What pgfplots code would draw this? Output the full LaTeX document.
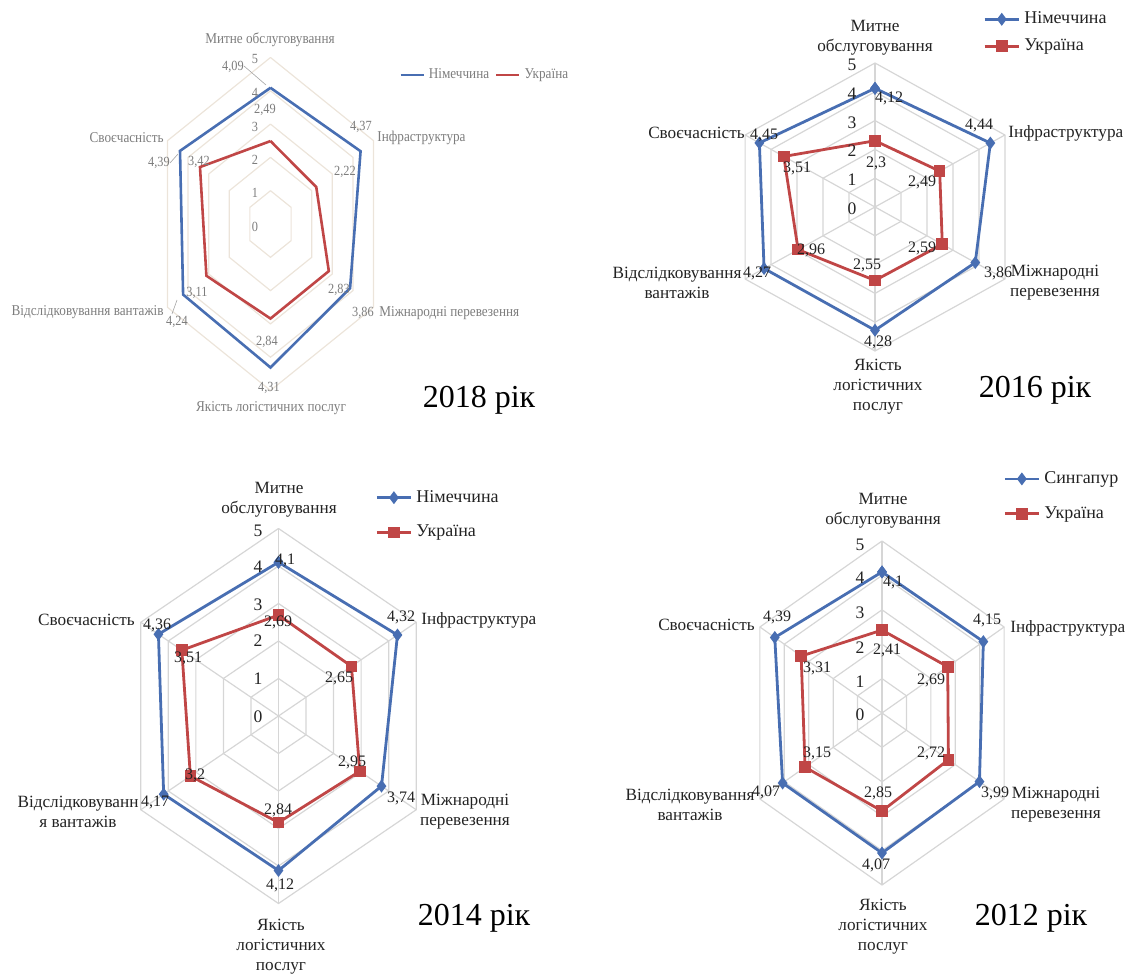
\documentclass[border=0pt]{standalone}
\usepackage{fontspec}
\setmainfont{Liberation Serif}
\usepackage{graphicx}
\usepackage{pgfplots}
\usepackage{pgfplotstable}
\pgfplotsset{compat=1.18}

\definecolor{deblue}{RGB}{72,110,178}
\definecolor{uared}{RGB}{192,70,70}
\definecolor{gridgray}{RGB}{214,214,214}
\definecolor{gridtan}{RGB}{236,228,218}
\definecolor{labgray}{RGB}{125,125,125}
\definecolor{txt}{RGB}{35,35,35}

% six LPI components, clockwise from the top; the 360 row closes the polygon
% a = angle, g = leader country, u = Ukraine
\pgfplotstableread{
a   g    u
0   4.09 2.49
60  4.37 2.22
120 3.86 2.83
180 4.31 2.84
240 4.24 3.11
300 4.39 3.42
360 4.09 2.49
}\lpiEighteen
\pgfplotstableread{
a   g    u
0   4.12 2.30
60  4.44 2.49
120 3.86 2.59
180 4.28 2.55
240 4.27 2.96
300 4.45 3.51
360 4.12 2.30
}\lpiSixteen
\pgfplotstableread{
a   g    u
0   4.10 2.69
60  4.32 2.65
120 3.74 2.95
180 4.12 2.84
240 4.17 3.20
300 4.36 3.51
360 4.10 2.69
}\lpiFourteen
\pgfplotstableread{
a   g    u
0   4.10 2.41
60  4.15 2.69
120 3.99 2.72
180 4.07 2.85
240 4.07 3.15
300 4.39 3.31
360 4.10 2.41
}\lpiTwelve
% corners of a unit hexagon
\pgfplotstableread{
a   r
0   1
60  1
120 1
180 1
240 1
300 1
360 1
}\hexa

\pgfplotsset{
  radar/.style={hide axis, scale only axis, anchor=center,
    xmin=-5.5, xmax=5.5, ymin=-5.5, ymax=5.5, clip=false},
  table/rx/.style={x expr={\thisrow{#1}*sin(\thisrow{a})},
                   y expr={\thisrow{#1}*cos(\thisrow{a})}},
  lead/.style={deblue, line width=1.4pt, mark=diamond*, mark size=2.1pt},
  ukr/.style={uared, line width=1.4pt, mark=square*, mark size=2.2pt},
}

% hexagonal grid, levels 1..5, and spokes
\newcommand{\hexgrid}[1]{%
  \pgfplotsinvokeforeach{1,...,5}{%
    \addplot[#1, line width=0.6pt, forget plot]
      table[x expr={##1*\thisrow{r}*sin(\thisrow{a})}, y expr={##1*\thisrow{r}*cos(\thisrow{a})}] \hexa;}}
\newcommand{\spokes}{%
  \pgfplotsinvokeforeach{0,60,...,300}{%
    \draw[gridgray, line width=0.6pt] (axis cs:0,0) -- (axis cs:{5*sin(##1)},{5*cos(##1)});}}

\newcommand{\sq}[1]{\scalebox{0.88}[1]{#1}}

\begin{document}
\begin{tikzpicture}
\path[use as bounding box] (0,0) rectangle (565.5pt,-489pt);

% ---------------- 2018 ----------------
\begin{axis}[radar, at={(135.25pt,-112pt)}, width=130.9pt, height=183.15pt,
  legend columns=2,
  legend style={at={(0.991,0.907)}, anchor=west, draw=none, fill=none,
    font=\fontsize{7.5}{9}\selectfont, text=labgray, inner sep=0pt,
    /tikz/every even column/.append style={column sep=1pt}},
  legend image code/.code={\draw[#1] (0cm,0cm) -- (0.4cm,0cm);}]
  \hexgrid{gridtan}
  \addplot[deblue, line width=1.3pt, no marks] table[rx=g] \lpiEighteen;
  \addplot[uared, line width=1.3pt, no marks] table[rx=u] \lpiEighteen;
  \legend{\sq{Німеччина}, \sq{Україна}}
\end{axis}

% ---------------- 2016 ----------------
\begin{axis}[radar, at={(437.5pt,-103.5pt)}, width=165pt, height=158.4pt,
  legend cell align=left,
  legend style={at={(0.827,1.13)}, anchor=north west, draw=none, fill=none,
    font=\fontsize{9}{10}\selectfont, text=txt, inner sep=0pt, row sep=2pt}]
  \hexgrid{gridgray}
  \spokes
  \addplot[lead] table[rx=g] \lpiSixteen;
  \addplot[ukr] table[rx=u] \lpiSixteen;
  \legend{Німеччина, Україна}
\end{axis}

% ---------------- 2014 ----------------
\begin{axis}[radar, at={(139.25pt,-358pt)}, width=174.9pt, height=206.25pt,
  legend cell align=left,
  legend style={at={(0.776,1.058)}, anchor=north west, draw=none, fill=none,
    font=\fontsize{9}{10}\selectfont, text=txt, inner sep=0pt, row sep=6pt}]
  \hexgrid{gridgray}
  \spokes
  \addplot[lead] table[rx=g] \lpiFourteen;
  \addplot[ukr] table[rx=u] \lpiFourteen;
  \legend{Німеччина, Україна}
\end{axis}

% ---------------- 2012 ----------------
\begin{axis}[radar, at={(441pt,-356.5pt)}, width=155.1pt, height=189.2pt,
  legend cell align=left,
  legend style={at={(0.89,1.15)}, anchor=north west, draw=none, fill=none,
    font=\fontsize{9}{10}\selectfont, text=txt, inner sep=0pt, row sep=6pt}]
  \hexgrid{gridgray}
  \spokes
  \addplot[lead] table[rx=g] \lpiTwelve;
  \addplot[ukr] table[rx=u] \lpiTwelve;
  \legend{Сингапур, Україна}
\end{axis}

% ---------------- labels ----------------
\begin{scope}[x=0.5pt, y=-0.5pt,
  c18/.style={font=\fontsize{7.5}{9}\selectfont, text=labgray, inner sep=0pt},
  v18/.style={font=\fontsize{7}{8}\selectfont, text=labgray, inner sep=0pt},
  cat/.style={font=\fontsize{8.6}{10}\selectfont, text=txt, inner sep=0pt, align=center},
  val/.style={font=\fontsize{8}{9}\selectfont, text=txt, inner sep=0pt},
  tck/.style={font=\fontsize{8.8}{10}\selectfont, text=txt, inner sep=0pt},
  yr/.style={font=\fontsize{16}{18}\selectfont, text=black, inner sep=0pt}]

% 2018
\node[c18] at (270,40) {\sq{Митне обслуговування}};
\node[c18,anchor=west] at (377,138) {\sq{Інфраструктура}};
\node[c18,anchor=east] at (164,138) {\sq{Своєчасність}};
\node[c18,anchor=east] at (164,312) {\sq{Відслідковування вантажів}};
\node[c18,anchor=west] at (379,313) {\sq{Міжнародні перевезення}};
\node[c18] at (271,408) {\sq{Якість логістичних послуг}};
\foreach \v/\yy in {5/59,4/93,3/127,2/160,1/193,0/227}
  \node[v18] at (255,\yy) {\sq{\v}};
\node[v18] at (233,67) {\sq{4,09}};
\node[v18] at (361,127) {\sq{4,37}};
\node[v18] at (363,313) {\sq{3,86}};
\node[v18] at (269,388) {\sq{4,31}};
\node[v18] at (177,322) {\sq{4,24}};
\node[v18] at (159,163) {\sq{4,39}};
\node[v18] at (265,110) {\sq{2,49}};
\node[v18] at (345,172) {\sq{2,22}};
\node[v18] at (339,290) {\sq{2,83}};
\node[v18] at (267,342) {\sq{2,84}};
\node[v18] at (197,293) {\sq{3,11}};
\node[v18] at (199,162) {\sq{3,42}};
\draw[labgray!70, line width=0.3pt] (244,66) -- (266,85);
\draw[labgray!70, line width=0.3pt] (170,163) -- (178,154);
\draw[labgray!70, line width=0.3pt] (172,314) -- (177,300);
\node[yr] at (479,400) {2018 рік};

% 2016
\node[cat] at (875,38) {Митне\\обслуговування};
\node[cat,anchor=west] at (1008,133) {Інфраструктура};
\node[cat,anchor=east] at (745,133) {Своєчасність};
\node[cat] at (677,283) {Відслідковування\\вантажів};
\node[cat] at (1055,283) {Міжнародні\\перевезення};
\node[cat] at (878,387) {Якість\\логістичних\\послуг};
\foreach \v/\yy in {5/65,4/94,3/123,2/151,1/180,0/209}
  \node[tck] at (852,\yy) {\v};
\node[val] at (889,98) {4,12};
\node[val] at (979,125) {4,44};
\node[val] at (998,273) {3,86};
\node[val] at (878,342) {4,28};
\node[val] at (757,273) {4,27};
\node[val] at (764,135) {4,45};
\node[val] at (876,163) {2,3};
\node[val] at (922,182) {2,49};
\node[val] at (922,248) {2,59};
\node[val] at (867,265) {2,55};
\node[val] at (811,250) {2,96};
\node[val] at (797,168) {3,51};
\node[yr] at (1035,390) {2016 рік};

% 2014
\node[cat] at (279,500) {Митне\\обслуговування};
\node[cat,anchor=west] at (421,620) {Інфраструктура};
\node[cat,anchor=east] at (135,620) {Своєчасність};
\node[cat] at (78,812) {Відслідковуванн\\я вантажів};
\node[cat] at (465,812) {Міжнародні\\перевезення};
\node[cat] at (281,947) {Якість\\логістичних\\послуг};
\foreach \v/\yy in {5/531,4/567,3/605,2/641,1/679,0/717}
  \node[tck] at (258,\yy) {\v};
\node[val] at (285,560) {4,1};
\node[val] at (401,617) {4,32};
\node[val] at (401,798) {3,74};
\node[val] at (280,885) {4,12};
\node[val] at (155,802) {4,17};
\node[val] at (157,625) {4,36};
\node[val] at (278,622) {2,69};
\node[val] at (339,678) {2,65};
\node[val] at (352,762) {2,95};
\node[val] at (278,810) {2,84};
\node[val] at (195,775) {3,2};
\node[val] at (188,658) {3,51};
\node[yr] at (474,918) {2014 рік};

% 2012
\node[cat] at (883,511) {Митне\\обслуговування};
\node[cat,anchor=west] at (1010,628) {Інфраструктура};
\node[cat,anchor=east] at (755,625) {Своєчасність};
\node[cat] at (690,805) {Відслідковування\\вантажів};
\node[cat] at (1056,805) {Міжнародні\\перевезення};
\node[cat] at (883,927) {Якість\\логістичних\\послуг};
\foreach \v/\yy in {5/545,4/578,3/613,2/648,1/682,0/715}
  \node[tck] at (860,\yy) {\v};
\node[val] at (893,582) {4,1};
\node[val] at (987,620) {4,15};
\node[val] at (995,793) {3,99};
\node[val] at (876,865) {4,07};
\node[val] at (766,792) {4,07};
\node[val] at (777,617) {4,39};
\node[val] at (887,650) {2,41};
\node[val] at (931,680) {2,69};
\node[val] at (931,753) {2,72};
\node[val] at (878,793) {2,85};
\node[val] at (817,753) {3,15};
\node[val] at (817,668) {3,31};
\node[yr] at (1031,918) {2012 рік};
\end{scope}
\end{tikzpicture}
\end{document}
